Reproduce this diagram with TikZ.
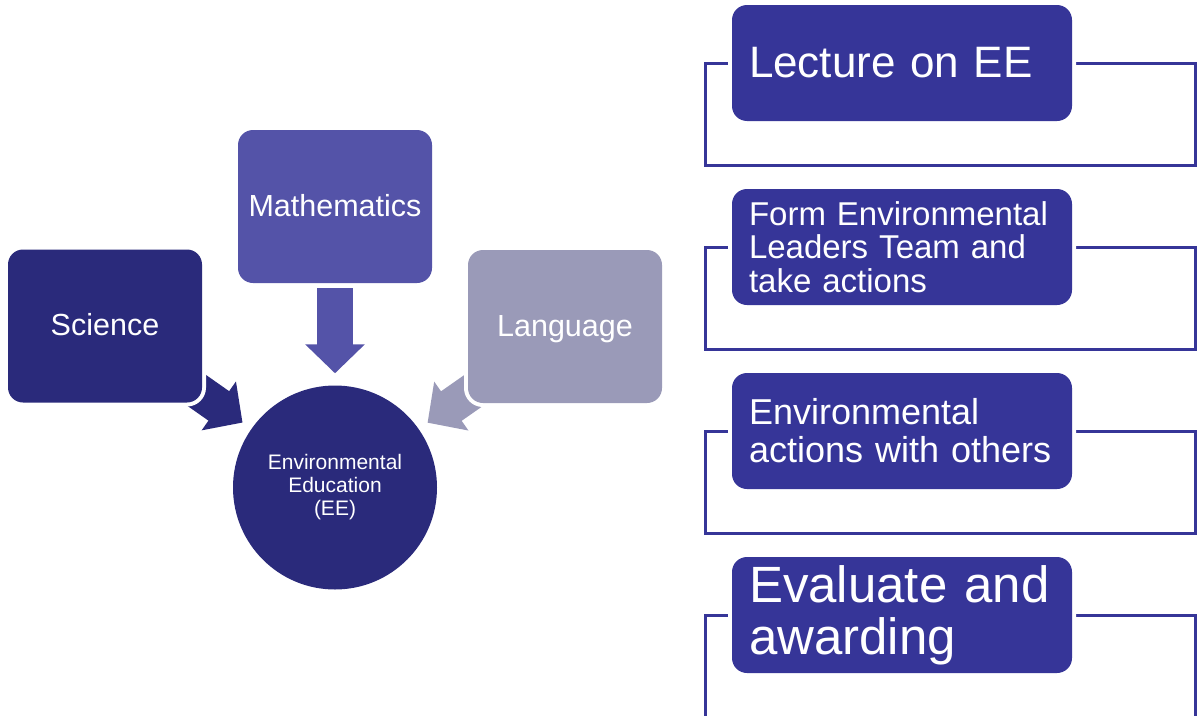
\documentclass[tikz,border=0pt]{standalone}
\usepackage{fontspec}
\setmainfont{Liberation Sans}
\usetikzlibrary{arrows.meta,calc,backgrounds}
\definecolor{navy}{HTML}{2A2A7B}
\definecolor{mathblue}{HTML}{5453A8}
\definecolor{langgray}{HTML}{9A9AB8}
\definecolor{stepblue}{HTML}{363598}
\tikzset{
  subj/.style={rounded corners=15pt, minimum width=194pt, minimum height=153pt,
    text=white, text height=22pt, text depth=3pt, font=\fontsize{30.5}{35}\selectfont,
    preaction={draw=white, line width=8pt}},
  fat/.style={line width=36pt, -{Triangle[length=29pt, width=58pt]}},
  stage/.style={fill=stepblue, rounded corners=15pt, minimum width=340pt,
    minimum height=116pt, text width=306pt, inner xsep=17pt, inner ysep=0pt,
    align=left, text=white, preaction={draw=white, line width=8pt}},
  stageframe/.style={draw=stepblue, line width=3pt},
}
\begin{document}
\begin{tikzpicture}[x=1pt, y=-1pt]
  \useasboundingbox (0,0) rectangle (1197,715);
  \node[subj, fill=navy] (Sci) at (105,326) {Science};
  \node[subj, fill=mathblue] (Mat) at (335,206.5) {Mathematics};
  \node[subj, fill=langgray] (Lang) at (565,326.5) {Language};
  \node[circle, fill=navy, minimum size=204pt, text=white, align=center,
    font=\fontsize{21}{23}\selectfont] (EE) at (335,487.5) {Environmental\\Education\\(EE)};
  \begin{scope}[on background layer]
    \draw[fat, mathblue] ([yshift=-5pt]Mat.south) -- ([yshift=12pt]EE.north);
    \draw[fat, navy] ($(EE.center)!198pt!(Sci.center)$) -- ($(EE.center)!113pt!(Sci.center)$);
    \draw[fat, langgray] ($(EE.center)!198pt!(Lang.center)$) -- ($(EE.center)!113pt!(Lang.center)$);
  \end{scope}
  \draw[stageframe] (705,63) rectangle (1195,165);
  \draw[stageframe] (705,247) rectangle (1195,349);
  \draw[stageframe] (705,431) rectangle (1195,533);
  \draw[stageframe] (705,615) rectangle (1195,717);
  \node[stage, font=\fontsize{44}{48}\selectfont] (Lec) at (902,63) {Lecture on EE};
  \node[stage, font=\fontsize{33}{33.5}\selectfont] (Team) at (902,247) {Form Environmental\\Leaders Team and\\take actions};
  \node[stage, font=\fontsize{36}{38}\selectfont] (Act) at (902,431) {Environmental\\\mbox{actions with others}};
  \node[stage, font=\fontsize{51}{52}\selectfont] (Eval) at (902,615) {Evaluate and\\awarding};
\end{tikzpicture}
\end{document}
